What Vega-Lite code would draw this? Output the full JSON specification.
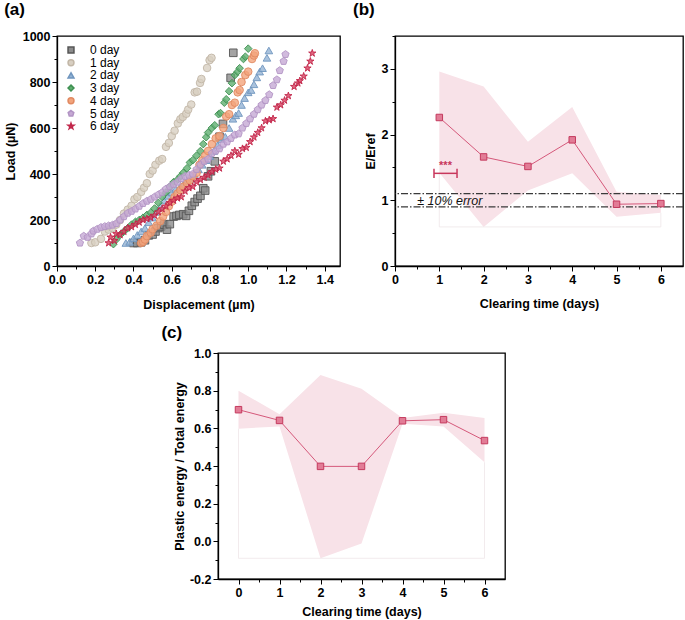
{
  "$schema": "https://vega.github.io/schema/vega-lite/v6.json",
  "padding": {"left": 3, "top": 0, "right": 0, "bottom": 0},
  "config": {
    "font": "Liberation Sans",
    "view": {"stroke": "black", "strokeWidth": 1.3},
    "axis": {"domainColor": "black", "domainWidth": 1.3, "tickColor": "black", "tickWidth": 1, "labelFont": "Liberation Sans", "labelFontWeight": "bold", "labelFontSize": 12.5, "labelColor": "black", "titleFont": "Liberation Sans", "titleFontWeight": "bold", "titleFontSize": 12.5, "titleColor": "black", "grid": false, "labelFlush": false, "labelOverlap": false, "labelPadding": 2, "tickCount": 100},
    "title": {"anchor": "start", "frame": "bounds", "fontSize": 17, "fontWeight": "bold", "color": "black", "baseline": "bottom", "font": "Liberation Sans"}
  },
  "datasets": {
    "loads": [
      {"s":"0 day","x":0.40,"y":100},{"s":"0 day","x":0.42,"y":100},{"s":"0 day","x":0.44,"y":103},{"s":"0 day","x":0.46,"y":112},{"s":"0 day","x":0.48,"y":133},{"s":"0 day","x":0.50,"y":137},{"s":"0 day","x":0.515,"y":150},{"s":"0 day","x":0.53,"y":165},{"s":"0 day","x":0.545,"y":172},{"s":"0 day","x":0.56,"y":180},{"s":"0 day","x":0.575,"y":158},{"s":"0 day","x":0.59,"y":182},{"s":"0 day","x":0.61,"y":215},{"s":"0 day","x":0.625,"y":218},{"s":"0 day","x":0.64,"y":222},{"s":"0 day","x":0.66,"y":225},{"s":"0 day","x":0.675,"y":218},{"s":"0 day","x":0.69,"y":240},{"s":"0 day","x":0.705,"y":262},{"s":"0 day","x":0.72,"y":278},{"s":"0 day","x":0.735,"y":293},{"s":"0 day","x":0.75,"y":305},{"s":"0 day","x":0.765,"y":338},{"s":"0 day","x":0.775,"y":328},{"s":"0 day","x":0.79,"y":390},{"s":"0 day","x":0.805,"y":412},{"s":"0 day","x":0.825,"y":455},{"s":"0 day","x":0.85,"y":562},{"s":"0 day","x":0.868,"y":618},{"s":"0 day","x":0.908,"y":818},{"s":"0 day","x":0.922,"y":927},
      {"s":"1 day","x":0.18,"y":100},{"s":"1 day","x":0.20,"y":103},{"s":"1 day","x":0.23,"y":118},{"s":"1 day","x":0.25,"y":150},{"s":"1 day","x":0.27,"y":158},{"s":"1 day","x":0.29,"y":165},{"s":"1 day","x":0.31,"y":180},{"s":"1 day","x":0.33,"y":200},{"s":"1 day","x":0.35,"y":228},{"s":"1 day","x":0.37,"y":245},{"s":"1 day","x":0.39,"y":262},{"s":"1 day","x":0.405,"y":290},{"s":"1 day","x":0.42,"y":300},{"s":"1 day","x":0.44,"y":322},{"s":"1 day","x":0.455,"y":340},{"s":"1 day","x":0.47,"y":360},{"s":"1 day","x":0.485,"y":400},{"s":"1 day","x":0.50,"y":415},{"s":"1 day","x":0.515,"y":440},{"s":"1 day","x":0.535,"y":458},{"s":"1 day","x":0.55,"y":465},{"s":"1 day","x":0.57,"y":518},{"s":"1 day","x":0.585,"y":535},{"s":"1 day","x":0.60,"y":565},{"s":"1 day","x":0.615,"y":588},{"s":"1 day","x":0.632,"y":620},{"s":"1 day","x":0.645,"y":638},{"s":"1 day","x":0.658,"y":648},{"s":"1 day","x":0.676,"y":662},{"s":"1 day","x":0.686,"y":680},{"s":"1 day","x":0.702,"y":702},{"s":"1 day","x":0.72,"y":755},{"s":"1 day","x":0.732,"y":758},{"s":"1 day","x":0.748,"y":796},{"s":"1 day","x":0.755,"y":813},{"s":"1 day","x":0.785,"y":861},{"s":"1 day","x":0.798,"y":895},{"s":"1 day","x":0.808,"y":905},
      {"s":"2 day","x":0.36,"y":100},{"s":"2 day","x":0.38,"y":105},{"s":"2 day","x":0.40,"y":120},{"s":"2 day","x":0.42,"y":135},{"s":"2 day","x":0.44,"y":150},{"s":"2 day","x":0.46,"y":165},{"s":"2 day","x":0.48,"y":190},{"s":"2 day","x":0.50,"y":210},{"s":"2 day","x":0.52,"y":235},{"s":"2 day","x":0.54,"y":260},{"s":"2 day","x":0.56,"y":285},{"s":"2 day","x":0.58,"y":305},{"s":"2 day","x":0.60,"y":320},{"s":"2 day","x":0.62,"y":335},{"s":"2 day","x":0.64,"y":340},{"s":"2 day","x":0.66,"y":352},{"s":"2 day","x":0.68,"y":368},{"s":"2 day","x":0.70,"y":378},{"s":"2 day","x":0.72,"y":395},{"s":"2 day","x":0.74,"y":420},{"s":"2 day","x":0.76,"y":440},{"s":"2 day","x":0.78,"y":460},{"s":"2 day","x":0.80,"y":478},{"s":"2 day","x":0.82,"y":500},{"s":"2 day","x":0.84,"y":525},{"s":"2 day","x":0.86,"y":552},{"s":"2 day","x":0.88,"y":562},{"s":"2 day","x":0.90,"y":600},{"s":"2 day","x":0.92,"y":640},{"s":"2 day","x":0.935,"y":655},{"s":"2 day","x":0.95,"y":665},{"s":"2 day","x":0.965,"y":700},{"s":"2 day","x":0.981,"y":730},{"s":"2 day","x":1.00,"y":755},{"s":"2 day","x":1.015,"y":765},{"s":"2 day","x":1.03,"y":790},{"s":"2 day","x":1.045,"y":820},{"s":"2 day","x":1.06,"y":845},{"s":"2 day","x":1.075,"y":860},{"s":"2 day","x":1.098,"y":905},{"s":"2 day","x":1.108,"y":937},
      {"s":"3 day","x":0.295,"y":95},{"s":"3 day","x":0.31,"y":115},{"s":"3 day","x":0.33,"y":135},{"s":"3 day","x":0.35,"y":150},{"s":"3 day","x":0.37,"y":165},{"s":"3 day","x":0.39,"y":180},{"s":"3 day","x":0.41,"y":192},{"s":"3 day","x":0.43,"y":200},{"s":"3 day","x":0.45,"y":210},{"s":"3 day","x":0.47,"y":222},{"s":"3 day","x":0.49,"y":232},{"s":"3 day","x":0.51,"y":250},{"s":"3 day","x":0.53,"y":275},{"s":"3 day","x":0.55,"y":300},{"s":"3 day","x":0.57,"y":320},{"s":"3 day","x":0.59,"y":345},{"s":"3 day","x":0.61,"y":365},{"s":"3 day","x":0.63,"y":375},{"s":"3 day","x":0.645,"y":390},{"s":"3 day","x":0.66,"y":405},{"s":"3 day","x":0.68,"y":425},{"s":"3 day","x":0.695,"y":450},{"s":"3 day","x":0.71,"y":460},{"s":"3 day","x":0.73,"y":480},{"s":"3 day","x":0.75,"y":500},{"s":"3 day","x":0.765,"y":530},{"s":"3 day","x":0.78,"y":560},{"s":"3 day","x":0.79,"y":580},{"s":"3 day","x":0.81,"y":600},{"s":"3 day","x":0.825,"y":612},{"s":"3 day","x":0.845,"y":660},{"s":"3 day","x":0.855,"y":665},{"s":"3 day","x":0.875,"y":710},{"s":"3 day","x":0.885,"y":725},{"s":"3 day","x":0.90,"y":760},{"s":"3 day","x":0.915,"y":795},{"s":"3 day","x":0.93,"y":830},{"s":"3 day","x":0.945,"y":845},{"s":"3 day","x":0.955,"y":860},{"s":"3 day","x":0.975,"y":900},{"s":"3 day","x":0.985,"y":910},{"s":"3 day","x":1.00,"y":945},
      {"s":"4 day","x":0.44,"y":100},{"s":"4 day","x":0.45,"y":105},{"s":"4 day","x":0.46,"y":115},{"s":"4 day","x":0.47,"y":130},{"s":"4 day","x":0.49,"y":145},{"s":"4 day","x":0.50,"y":160},{"s":"4 day","x":0.52,"y":175},{"s":"4 day","x":0.54,"y":195},{"s":"4 day","x":0.555,"y":215},{"s":"4 day","x":0.57,"y":235},{"s":"4 day","x":0.585,"y":260},{"s":"4 day","x":0.60,"y":280},{"s":"4 day","x":0.615,"y":300},{"s":"4 day","x":0.63,"y":315},{"s":"4 day","x":0.645,"y":330},{"s":"4 day","x":0.66,"y":345},{"s":"4 day","x":0.68,"y":360},{"s":"4 day","x":0.695,"y":372},{"s":"4 day","x":0.71,"y":390},{"s":"4 day","x":0.73,"y":405},{"s":"4 day","x":0.745,"y":440},{"s":"4 day","x":0.76,"y":460},{"s":"4 day","x":0.775,"y":480},{"s":"4 day","x":0.79,"y":500},{"s":"4 day","x":0.81,"y":530},{"s":"4 day","x":0.83,"y":555},{"s":"4 day","x":0.85,"y":565},{"s":"4 day","x":0.87,"y":600},{"s":"4 day","x":0.885,"y":650},{"s":"4 day","x":0.90,"y":660},{"s":"4 day","x":0.915,"y":700},{"s":"4 day","x":0.93,"y":710},{"s":"4 day","x":0.945,"y":755},{"s":"4 day","x":0.955,"y":765},{"s":"4 day","x":0.965,"y":800},{"s":"4 day","x":0.985,"y":830},{"s":"4 day","x":1.00,"y":845},{"s":"4 day","x":1.02,"y":900},{"s":"4 day","x":1.03,"y":915},{"s":"4 day","x":1.035,"y":925},
      {"s":"5 day","x":0.12,"y":100},{"s":"5 day","x":0.14,"y":130},{"s":"5 day","x":0.16,"y":125},{"s":"5 day","x":0.18,"y":140},{"s":"5 day","x":0.19,"y":152},{"s":"5 day","x":0.21,"y":160},{"s":"5 day","x":0.23,"y":168},{"s":"5 day","x":0.25,"y":172},{"s":"5 day","x":0.27,"y":175},{"s":"5 day","x":0.29,"y":178},{"s":"5 day","x":0.31,"y":185},{"s":"5 day","x":0.33,"y":200},{"s":"5 day","x":0.35,"y":215},{"s":"5 day","x":0.37,"y":230},{"s":"5 day","x":0.39,"y":238},{"s":"5 day","x":0.41,"y":248},{"s":"5 day","x":0.43,"y":260},{"s":"5 day","x":0.45,"y":272},{"s":"5 day","x":0.47,"y":282},{"s":"5 day","x":0.49,"y":290},{"s":"5 day","x":0.51,"y":300},{"s":"5 day","x":0.53,"y":310},{"s":"5 day","x":0.55,"y":320},{"s":"5 day","x":0.57,"y":335},{"s":"5 day","x":0.59,"y":345},{"s":"5 day","x":0.61,"y":355},{"s":"5 day","x":0.63,"y":365},{"s":"5 day","x":0.65,"y":380},{"s":"5 day","x":0.67,"y":390},{"s":"5 day","x":0.69,"y":395},{"s":"5 day","x":0.71,"y":400},{"s":"5 day","x":0.73,"y":420},{"s":"5 day","x":0.75,"y":440},{"s":"5 day","x":0.77,"y":455},{"s":"5 day","x":0.79,"y":465},{"s":"5 day","x":0.81,"y":490},{"s":"5 day","x":0.83,"y":500},{"s":"5 day","x":0.85,"y":510},{"s":"5 day","x":0.87,"y":530},{"s":"5 day","x":0.89,"y":540},{"s":"5 day","x":0.91,"y":555},{"s":"5 day","x":0.93,"y":570},{"s":"5 day","x":0.95,"y":575},{"s":"5 day","x":0.97,"y":600},{"s":"5 day","x":0.99,"y":620},{"s":"5 day","x":1.01,"y":640},{"s":"5 day","x":1.03,"y":660},{"s":"5 day","x":1.05,"y":680},{"s":"5 day","x":1.07,"y":700},{"s":"5 day","x":1.09,"y":720},{"s":"5 day","x":1.11,"y":745},{"s":"5 day","x":1.13,"y":785},{"s":"5 day","x":1.15,"y":810},{"s":"5 day","x":1.165,"y":850},{"s":"5 day","x":1.185,"y":890},{"s":"5 day","x":1.195,"y":920},
      {"s":"6 day","x":0.27,"y":100},{"s":"6 day","x":0.28,"y":125},{"s":"6 day","x":0.30,"y":110},{"s":"6 day","x":0.31,"y":140},{"s":"6 day","x":0.33,"y":135},{"s":"6 day","x":0.35,"y":150},{"s":"6 day","x":0.37,"y":165},{"s":"6 day","x":0.39,"y":170},{"s":"6 day","x":0.41,"y":180},{"s":"6 day","x":0.43,"y":190},{"s":"6 day","x":0.45,"y":200},{"s":"6 day","x":0.47,"y":205},{"s":"6 day","x":0.49,"y":210},{"s":"6 day","x":0.51,"y":220},{"s":"6 day","x":0.53,"y":235},{"s":"6 day","x":0.55,"y":248},{"s":"6 day","x":0.57,"y":260},{"s":"6 day","x":0.59,"y":275},{"s":"6 day","x":0.61,"y":285},{"s":"6 day","x":0.63,"y":295},{"s":"6 day","x":0.65,"y":300},{"s":"6 day","x":0.67,"y":325},{"s":"6 day","x":0.69,"y":340},{"s":"6 day","x":0.71,"y":345},{"s":"6 day","x":0.73,"y":365},{"s":"6 day","x":0.75,"y":375},{"s":"6 day","x":0.77,"y":385},{"s":"6 day","x":0.79,"y":395},{"s":"6 day","x":0.81,"y":410},{"s":"6 day","x":0.83,"y":420},{"s":"6 day","x":0.85,"y":425},{"s":"6 day","x":0.87,"y":455},{"s":"6 day","x":0.89,"y":465},{"s":"6 day","x":0.91,"y":480},{"s":"6 day","x":0.93,"y":500},{"s":"6 day","x":0.95,"y":485},{"s":"6 day","x":0.97,"y":510},{"s":"6 day","x":0.99,"y":515},{"s":"6 day","x":1.01,"y":540},{"s":"6 day","x":1.03,"y":560},{"s":"6 day","x":1.05,"y":580},{"s":"6 day","x":1.07,"y":600},{"s":"6 day","x":1.09,"y":630},{"s":"6 day","x":1.11,"y":635},{"s":"6 day","x":1.13,"y":640},{"s":"6 day","x":1.15,"y":690},{"s":"6 day","x":1.17,"y":700},{"s":"6 day","x":1.19,"y":720},{"s":"6 day","x":1.21,"y":740},{"s":"6 day","x":1.24,"y":780},{"s":"6 day","x":1.26,"y":795},{"s":"6 day","x":1.27,"y":805},{"s":"6 day","x":1.29,"y":825},{"s":"6 day","x":1.31,"y":860},{"s":"6 day","x":1.325,"y":890},{"s":"6 day","x":1.335,"y":925}
    ],
    "modulus": [
      {"x":1,"y":2.26,"lo":1.42,"hi":2.96},
      {"x":2,"y":1.66,"lo":0.595,"hi":2.73},
      {"x":3,"y":1.515,"lo":1.15,"hi":1.89},
      {"x":4,"y":1.92,"lo":1.41,"hi":2.42},
      {"x":5,"y":0.94,"lo":0.75,"hi":1.13},
      {"x":6,"y":0.95,"lo":0.81,"hi":1.08}
    ],
    "energy": [
      {"x":0,"y":0.699,"lo":0.598,"hi":0.80},
      {"x":1,"y":0.642,"lo":0.61,"hi":0.675},
      {"x":2,"y":0.398,"lo":-0.09,"hi":0.883},
      {"x":3,"y":0.398,"lo":-0.012,"hi":0.81},
      {"x":4,"y":0.64,"lo":0.625,"hi":0.655},
      {"x":5,"y":0.646,"lo":0.61,"hi":0.683},
      {"x":6,"y":0.535,"lo":0.42,"hi":0.655}
    ]
  },
  "spacing": 11,
  "vconcat": [
    {
      "spacing": 11,
      "hconcat": [
        {
          "width": 283, "height": 230,
          "title": {"text": "(a)", "offset": 11},
          "data": {"name": "loads"},
          "mark": {"type": "point", "filled": true, "size": 58, "strokeWidth": 0.9, "fillOpacity": 0.8},
          "encoding": {
            "x": {"field": "x", "type": "quantitative", "scale": {"domain": [0, 1.48], "nice": false, "zero": false},
              "axis": {"title": "Displacement (µm)", "values": [0,0.1,0.2,0.3,0.4,0.5,0.6,0.7,0.8,0.9,1.0,1.1,1.2,1.3,1.4], "tickCount": 100, "labelOverlap": false,
                "labelExpr": "round(datum.value*10) % 2 != 0 ? '' : format(datum.value,'.1f')",
                "tickSize": {"condition": {"test": "round(datum.value*10) % 2 != 0", "value": 3}, "value": 5},
                "titlePadding": 13}},
            "y": {"field": "y", "type": "quantitative", "scale": {"domain": [0, 1000], "nice": false},
              "axis": {"title": "Load (µN)", "values": [0,100,200,300,400,500,600,700,800,900,1000], "tickCount": 100, "labelOverlap": false,
                "labelExpr": "datum.value % 200 != 0 ? '' : format(datum.value,'d')",
                "tickSize": {"condition": {"test": "datum.value % 200 != 0", "value": 3}, "value": 5},
                "titlePadding": 5}},
            "fill": {"field": "s", "type": "nominal",
              "scale": {"domain": ["0 day","1 day","2 day","3 day","4 day","5 day","6 day"], "range": ["#8c8c8c","#d8cfc2","#93b3d4","#5faf70","#f2a47c","#c6a9d4","#d9405f"]},
              "legend": {"title": null, "orient": "top-left", "offset": 8, "padding": 0, "labelFontSize": 12, "labelFont": "Liberation Sans", "symbolSize": 35, "rowPadding": 0.7, "labelOffset": 13}},
            "stroke": {"field": "s", "type": "nominal",
              "scale": {"domain": ["0 day","1 day","2 day","3 day","4 day","5 day","6 day"], "range": ["#555555","#c2b7a7","#6f95be","#3f9052","#e18a62","#b294c4","#c1264a"]},
              "legend": {"title": null, "orient": "top-left", "offset": 8, "padding": 0, "labelFontSize": 12, "labelFont": "Liberation Sans", "symbolSize": 35, "rowPadding": 0.7, "labelOffset": 13}},
            "shape": {"field": "s", "type": "nominal",
              "scale": {"domain": ["0 day","1 day","2 day","3 day","4 day","5 day","6 day"], "range": ["square","circle","triangle-up","diamond","circle","M0,-1L0.951,-0.309L0.588,0.809L-0.588,0.809L-0.951,-0.309Z","M0,-1L0.225,-0.309L0.951,-0.309L0.363,0.118L0.588,0.809L0,0.382L-0.588,0.809L-0.363,0.118L-0.951,-0.309L-0.225,-0.309Z"]},
              "legend": {"title": null, "orient": "top-left", "offset": 8, "padding": 0, "labelFontSize": 12, "labelFont": "Liberation Sans", "symbolSize": 35, "rowPadding": 0.7, "labelOffset": 13}}
          }
        },
        {
          "width": 288, "height": 230,
          "title": {"text": "(b)", "offset": 11, "dx": -11},
          "layer": [
            {
              "data": {"name": "modulus"},
              "mark": {"type": "area", "color": "#f8e2e8", "opacity": 1},
              "encoding": {
                "x": {"field": "x", "type": "quantitative", "scale": {"domain": [0, 6.5], "nice": false, "zero": false},
                  "axis": {"title": "Clearing time (days)", "values": [0,0.5,1,1.5,2,2.5,3,3.5,4,4.5,5,5.5,6], "tickCount": 100, "labelOverlap": false,
                    "labelExpr": "round(datum.value*2) % 2 != 0 ? '' : format(datum.value,'d')",
                    "tickSize": {"condition": {"test": "round(datum.value*2) % 2 != 0", "value": 3}, "value": 5},
                    "titlePadding": 12}},
                "y": {"field": "hi", "type": "quantitative", "scale": {"domain": [0, 3.5], "nice": false},
                  "axis": {"title": "E/Eref", "values": [0,0.5,1,1.5,2,2.5,3,3.5], "tickCount": 100, "labelOverlap": false,
                    "labelExpr": "round(datum.value*2) % 2 != 0 ? '' : format(datum.value,'d')",
                    "tickSize": {"condition": {"test": "round(datum.value*2) % 2 != 0", "value": 3}, "value": 5},
                    "titlePadding": 4}},
                "y2": {"field": "lo"}
              }
            },
            {
              "data": {"values": [{"x":1,"x2":6,"y":0.595},{"x":1,"x2":1,"y":0.595,"y2":1.42},{"x":6,"x2":6,"y":0.595,"y2":0.81}]},
              "mark": {"type": "rule", "color": "#efe6e8", "strokeWidth": 0.8},
              "encoding": {"x": {"field": "x", "type": "quantitative", "title": "Clearing time (days)"}, "x2": {"field": "x2"}, "y": {"field": "y", "type": "quantitative", "title": "E/Eref"}, "y2": {"field": "y2"}}
            },
            {
              "data": {"values": [{"y": 1.1}, {"y": 0.9}]},
              "mark": {"type": "rule", "color": "#3a3a3a", "strokeWidth": 1.2, "strokeDash": [7, 2, 1.5, 2]},
              "encoding": {"y": {"field": "y", "type": "quantitative", "title": "E/Eref"}}
            },
            {
              "data": {"name": "modulus"},
              "mark": {"type": "line", "color": "#d5587a", "strokeWidth": 1},
              "encoding": {"x": {"field": "x", "type": "quantitative", "title": "Clearing time (days)"}, "y": {"field": "y", "type": "quantitative", "title": "E/Eref"}}
            },
            {
              "data": {"name": "modulus"},
              "mark": {"type": "point", "shape": "square", "filled": true, "size": 42, "fill": "#e27c96", "stroke": "#c43a5e", "strokeWidth": 1, "opacity": 1},
              "encoding": {"x": {"field": "x", "type": "quantitative", "title": "Clearing time (days)"}, "y": {"field": "y", "type": "quantitative", "title": "E/Eref"}}
            },
            {
              "data": {"values": [{"x": 0.5, "y": 0.99, "t": "± 10% error"}]},
              "mark": {"type": "text", "align": "left", "baseline": "middle", "fontStyle": "italic", "fontSize": 12.5, "color": "#111111", "font": "Liberation Sans"},
              "encoding": {"x": {"field": "x", "type": "quantitative", "title": "Clearing time (days)"}, "y": {"field": "y", "type": "quantitative", "title": "E/Eref"}, "text": {"field": "t"}}
            },
            {
              "data": {"values": [{"x": 0.88, "x2": 1.40, "y": 1.41, "y2": 1.41}, {"x": 0.88, "x2": 0.88, "y": 1.34, "y2": 1.48}, {"x": 1.40, "x2": 1.40, "y": 1.34, "y2": 1.48}]},
              "mark": {"type": "rule", "color": "#c8375c", "strokeWidth": 1.5},
              "encoding": {"x": {"field": "x", "type": "quantitative", "title": "Clearing time (days)"}, "x2": {"field": "x2"}, "y": {"field": "y", "type": "quantitative", "title": "E/Eref"}, "y2": {"field": "y2"}}
            },
            {
              "data": {"values": [{"x": 1.14, "y": 1.45, "t": "***"}]},
              "mark": {"type": "text", "align": "center", "baseline": "bottom", "fontSize": 11, "fontWeight": "bold", "color": "#c8375c", "font": "Liberation Sans"},
              "encoding": {"x": {"field": "x", "type": "quantitative", "title": "Clearing time (days)"}, "y": {"field": "y", "type": "quantitative", "title": "E/Eref"}, "text": {"field": "t"}}
            }
          ]
        }
      ]
    },
    {
      "spacing": 102,
      "hconcat": [
        {
          "width": 1, "height": 226,
          "view": {"stroke": null},
          "data": {"values": []},
          "mark": {"type": "point", "opacity": 0}
        },
        {
          "width": 287, "height": 226,
          "title": {"text": "(c)", "offset": 5, "dx": -12},
          "layer": [
            {
              "data": {"name": "energy"},
              "mark": {"type": "area", "color": "#f8e2e8", "opacity": 1},
              "encoding": {
                "x": {"field": "x", "type": "quantitative", "scale": {"domain": [-0.5, 6.5], "nice": false, "zero": false},
                  "axis": {"title": "Clearing time (days)", "values": [0,0.5,1,1.5,2,2.5,3,3.5,4,4.5,5,5.5,6], "tickCount": 100, "labelOverlap": false,
                    "labelExpr": "round(datum.value*2) % 2 != 0 ? '' : format(datum.value,'d')",
                    "tickSize": {"condition": {"test": "round(datum.value*2) % 2 != 0", "value": 3}, "value": 5},
                    "titlePadding": 7}},
                "y": {"field": "hi", "type": "quantitative", "scale": {"domain": [-0.2, 1.0], "nice": false, "zero": false},
                  "axis": {"title": "Plastic energy / Total energy", "values": [-0.2,-0.1,0,0.1,0.2,0.3,0.4,0.5,0.6,0.7,0.8,0.9,1.0], "tickCount": 100, "labelOverlap": false,
                    "labelExpr": "round(datum.value*10) % 2 != 0 ? '' : replace(format(datum.value,'.1f'),'−','-')",
                    "tickSize": {"condition": {"test": "round(datum.value*10) % 2 != 0", "value": 3}, "value": 5},
                    "titlePadding": 3}},
                "y2": {"field": "lo"}
              }
            },
            {
              "data": {"values": [{"x":0,"x2":6,"y":-0.09},{"x":0,"x2":0,"y":-0.09,"y2":0.598},{"x":6,"x2":6,"y":-0.09,"y2":0.42}]},
              "mark": {"type": "rule", "color": "#efe6e8", "strokeWidth": 0.8},
              "encoding": {"x": {"field": "x", "type": "quantitative", "title": "Clearing time (days)"}, "x2": {"field": "x2"}, "y": {"field": "y", "type": "quantitative", "title": "Plastic energy / Total energy"}, "y2": {"field": "y2"}}
            },
            {
              "data": {"name": "energy"},
              "mark": {"type": "line", "color": "#d5587a", "strokeWidth": 1},
              "encoding": {"x": {"field": "x", "type": "quantitative", "title": "Clearing time (days)"}, "y": {"field": "y", "type": "quantitative", "title": "Plastic energy / Total energy"}}
            },
            {
              "data": {"name": "energy"},
              "mark": {"type": "point", "shape": "square", "filled": true, "size": 42, "fill": "#e27c96", "stroke": "#c43a5e", "strokeWidth": 1, "opacity": 1},
              "encoding": {"x": {"field": "x", "type": "quantitative", "title": "Clearing time (days)"}, "y": {"field": "y", "type": "quantitative", "title": "Plastic energy / Total energy"}}
            }
          ]
        }
      ]
    }
  ]
}
